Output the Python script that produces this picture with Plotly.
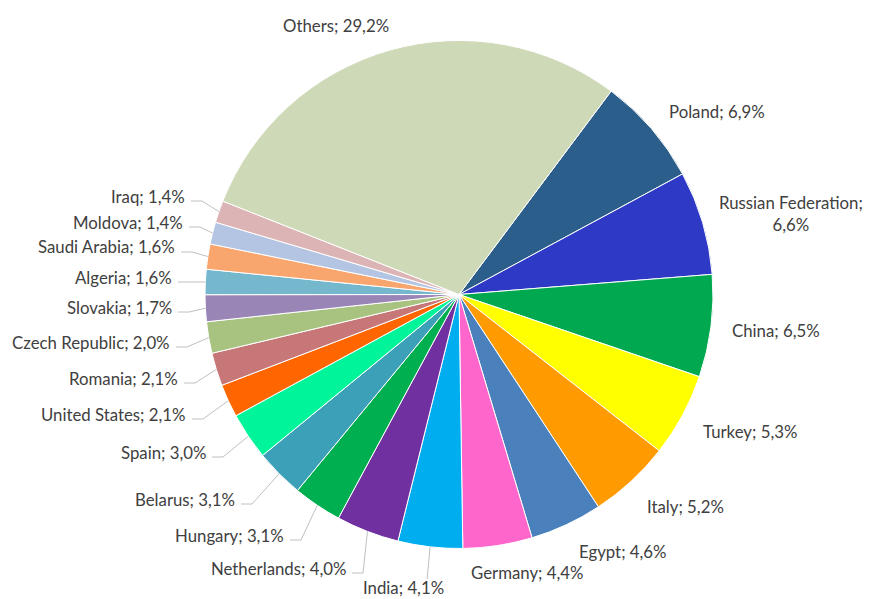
import math
import plotly.graph_objects as go

countries = ["Poland", "Russian Federation", "China", "Turkey", "Italy", "Egypt",
             "Germany", "India", "Netherlands", "Hungary", "Belarus", "Spain",
             "United States", "Romania", "Czech Republic", "Slovakia", "Algeria",
             "Saudi Arabia", "Moldova", "Iraq", "Others"]
shares = [6.9, 6.6, 6.5, 5.3, 5.2, 4.6, 4.4, 4.1, 4.0, 3.1, 3.1, 3.0,
          2.1, 2.1, 2.0, 1.7, 1.6, 1.6, 1.4, 1.4, 29.2]
colors = ["#2C5E8C", "#2E3AC6", "#00A84F", "#FFFF00", "#FF9A00", "#4A80BC",
          "#FF66CC", "#00AEEF", "#7030A0", "#00AF50", "#3CA0B8", "#00F59B",
          "#FF6600", "#C77777", "#A8C380", "#9A85B7", "#75B7CD",
          "#F8A66E", "#B3C5E2", "#DDB4B5", "#CED9B7"]

PAGE_W, PAGE_H = 872, 599
OFF = 8  # default page body margin
W, H = PAGE_W - OFF, PAGE_H - OFF
CX, CY, R = 459, 294.5, 254
ROT = 36.8

# label layout in page pixels: (x, y, xanchor, leader)
label_pos = [
    (717, 111, "center", None), (791, 213, "center", None), (776, 330, "center", None),
    (750, 431, "center", None), (685, 506, "center", None), (623, 551, "center", None),
    (527, 572, "center", None), (403, 587, "center", "up"), (348, 568, "right", "side"),
    (286, 535, "right", "side"), (237, 499, "right", "side"), (208, 452, "right", "side"),
    (188, 414, "right", "side"), (180, 378, "right", "side"), (172, 342, "right", "side"),
    (174, 307, "right", "side"), (174, 277, "right", "side"), (177, 247, "right", "side"),
    (185, 222, "right", "side"), (187, 196, "right", "side"), (336, 25, "center", None),
]

def px(x):
    return (x - OFF) / W

def py(y):
    return 1 - (y - OFF) / H

fig = go.Figure(go.Pie(
    labels=countries, values=shares, sort=False, direction="clockwise",
    rotation=ROT, textinfo="none", hoverinfo="label+percent",
    marker=dict(colors=colors, line=dict(color="white", width=1)),
    domain=dict(x=[px(CX - R), px(CX + R)], y=[py(CY + R), py(CY - R)]),
    showlegend=False,
))

total = sum(shares)
annotations = []
shapes = []
cum = 0.0
for name, val, (lx, ly, anc, leader) in zip(countries, shares, label_pos):
    mid = (cum + val / 2) / total * 360 + ROT
    cum += val
    vtxt = f"{val:.1f}".replace(".", ",")
    sep = ";<br>" if name == "Russian Federation" else "; "
    annotations.append(dict(
        x=px(lx), y=py(ly), xref="paper", yref="paper", text=f"{name}{sep}{vtxt}%",
        showarrow=False, xanchor=anc, yanchor="middle", align="center",
        font=dict(family="Lato, Carlito, sans-serif", size=16.8, color="#404040"),
    ))
    ex = CX + R * math.sin(math.radians(mid))
    ey = CY - R * math.cos(math.radians(mid))
    if leader == "side":
        sx, sy = lx + 4, ly + 5
        shapes.append(dict(type="path", xref="paper", yref="paper",
                           path=f"M {px(sx)} {py(sy)} L {px(sx + 11)} {py(sy)} L {px(ex)} {py(ey)}",
                           line=dict(color="#C0C0C0", width=1)))
    elif leader == "up":
        shapes.append(dict(type="line", xref="paper", yref="paper",
                           x0=px(ex - 3), y0=py(ly - 8), x1=px(ex), y1=py(ey),
                           line=dict(color="#C0C0C0", width=1)))

fig.update_layout(
    width=W, height=H, margin=dict(l=0, r=0, t=0, b=0),
    paper_bgcolor="white", plot_bgcolor="white",
    annotations=annotations, shapes=shapes,
)
fig.write_html("out.html")
